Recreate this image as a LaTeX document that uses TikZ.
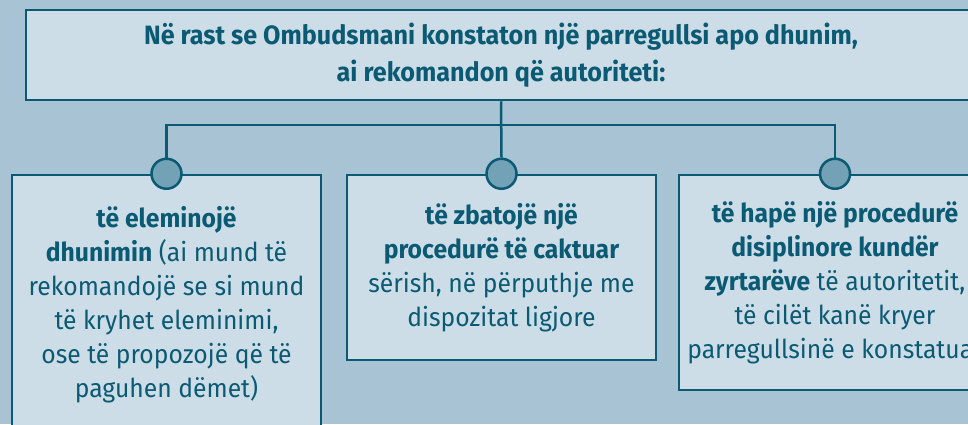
\documentclass[tikz,border=0pt]{standalone}
\usepackage{fontspec}
\setmainfont{Fira Sans}[FakeStretch=0.95]
\usetikzlibrary{positioning}

\definecolor{ombbg}{HTML}{A7C3D4}
\definecolor{ombbox}{HTML}{CDDDE7}
\definecolor{ombline}{HTML}{0B5A73}
\definecolor{ombknob}{HTML}{73A1B5}

\begin{document}
\begin{tikzpicture}[x=1pt, y=-1pt]
    \tikzset{
      block/.style={
        draw=ombline, fill=ombbox, line width=2.5pt, rectangle,
        text=ombline, align=center, inner sep=0pt,
        font=\fontsize{26}{34}\selectfont
      },
      knob/.style={
        draw=ombline, fill=ombknob, line width=2.5pt, circle,
        minimum size=30pt, inner sep=0pt
      }
    }
    \fill[ombbg] (0,0) rectangle (968,424);
    \useasboundingbox (0,0) rectangle (968,424);
    \clip (0,0) rectangle (968,424);
    % blocks
    \node (top) [block, minimum width=950pt, minimum height=90pt,
      font=\bfseries\fontsize{26.5}{37}\selectfont] at (501,55)
      {Në rast se Ombudsmani konstaton një parregullsi apo dhunim,\\
       ai rekomandon që autoriteti:};
    \node (box1) [block, minimum width=309pt, minimum height=260pt] at (166.5,305)
      {\textbf{të eleminojë}\\
       \textbf{dhunimin} (ai mund të\\
       rekomandojë se si mund\\
       të kryhet eleminimi,\\
       ose të propozojë që të\\
       paguhen dëmet)};
    \node (box2) [block, minimum width=309pt, minimum height=185pt] at (501.5,267.5)
      {\textbf{të zbatojë një}\\
       \textbf{procedurë të caktuar}\\
       sërish, në përputhje me\\
       dispozitat ligjore};
    \node (box3) [block, minimum width=312pt, minimum height=215pt] at (835,282.5)
      {\textbf{të hapë një procedurë}\\
       \textbf{disiplinore kundër}\\
       \textbf{zyrtarëve} të autoritetit,\\
       të cilët kanë kryer\\
       parregullsinë e konstatuar};
    % knobs
    \foreach \i in {1,2,3} {
      \node (knob\i) [knob] at (box\i.north) {};
    }
    % lines
    \coordinate (hub) at (501,125);
    \draw[ombline, line width=2.5pt] (top.south) -- (knob2.north);
    \draw[ombline, line width=2.5pt] (knob1.north) |- (hub) -| (knob3.north);
\end{tikzpicture}
\end{document}
